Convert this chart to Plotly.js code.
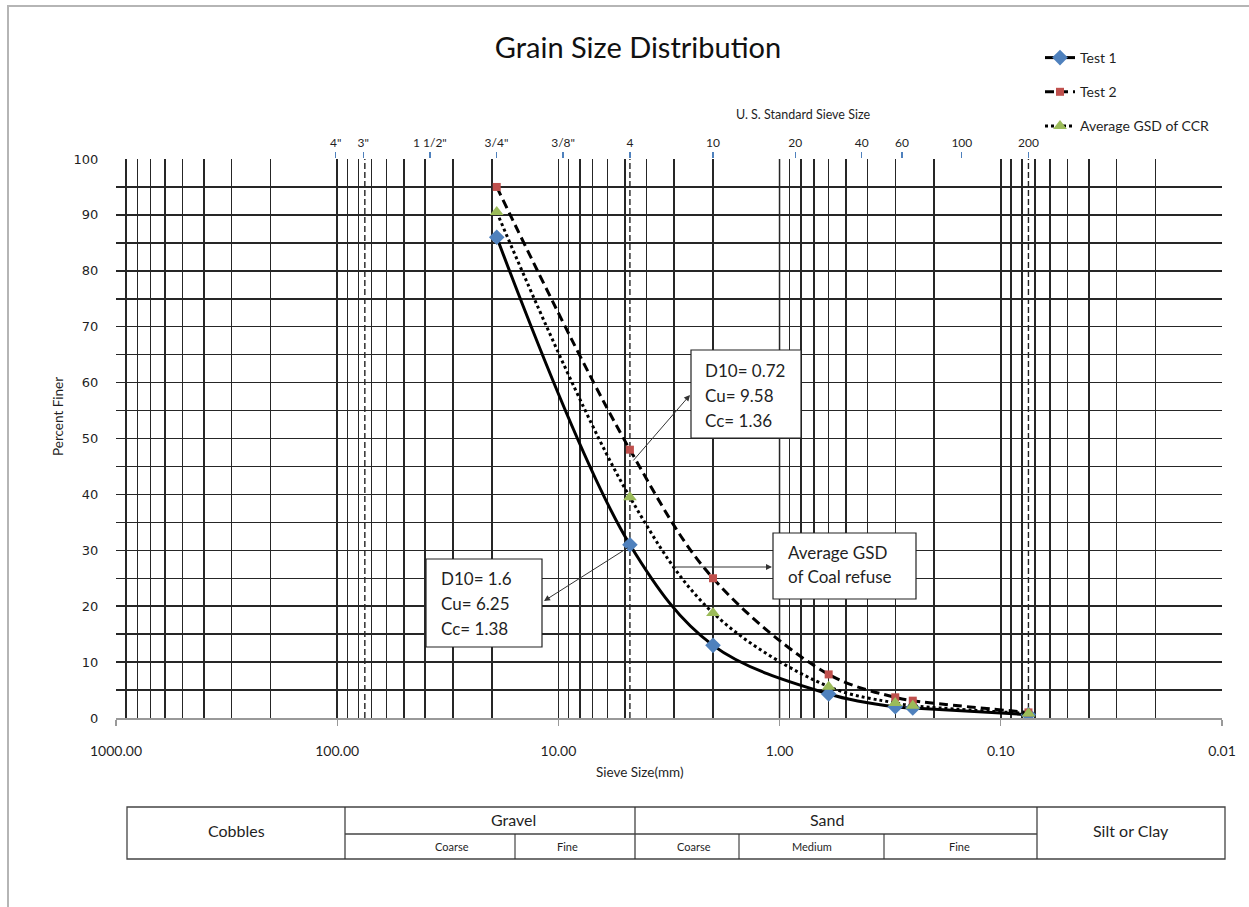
<!DOCTYPE html>
<html>
<head>
<meta charset="utf-8">
<script src="https://cdn.plot.ly/plotly-3.0.1.min.js"></script>
<style>
  html, body { margin: 0; padding: 0; background: #fff; }
  #wrap { position: relative; width: 1249px; height: 907px; overflow: hidden; }
  #chart { position: absolute; left: 0; top: 0; width: 1249px; height: 907px; }
  #frame { position: absolute; left: 7px; top: 5px; right: -10px; bottom: -10px;
           border-left: 2px solid #b5b5b5; border-top: 2px solid #b5b5b5; pointer-events: none; }
</style>
</head>
<body>
<div id="wrap">
  <div id="chart"></div>
  <div id="frame"></div>
</div>
<script>
// ---------------- data ----------------
const sieveSizeMm = [19, 4.75, 2.0, 0.6, 0.3, 0.25, 0.075];
const test1 = [86, 31, 13, 4.3, 2.0, 1.8, 0.6];
const test2 = [95, 48, 25, 7.8, 3.7, 3.1, 1.0];
const avgCCR = [90.5, 39.5, 18.8, 5.6, 2.7, 2.2, 0.8];
const seriesNames = ['Test 1', 'Test 2', 'Average GSD of CCR'];

// bottom axis tick labels
const xTickVals = [1000, 100, 10, 1, 0.1, 0.01];
const xTickText = ['1000.00', '100.00', '10.00', '1.00', '0.10', '0.01'];

// top axis: U.S. standard sieve sizes
const sieveTickVals = [101.6, 76.2, 38.1, 19.05, 9.525, 4.75, 2.0, 0.85, 0.425, 0.28, 0.15, 0.075];
const sieveTickText = ['4"', '3"', '1 1/2"', '3/4"', '3/8"', '4', '10', '20', '40', '60', '100', '200'];

// y axis ticks
const yTickVals = [0, 10, 20, 30, 40, 50, 60, 70, 80, 90, 100];

// sieve boundary reference lines (mm)
const boundaryLines = [75, 4.75, 0.075];

// text boxes
const box1Lines = ['D10= 0.72', 'Cu= 9.58', 'Cc= 1.36'];
const box2Lines = ['D10= 1.6', 'Cu= 6.25', 'Cc= 1.38'];
const box3Lines = ['Average GSD', 'of Coal refuse'];

// classification table labels
const tableTop = ['Cobbles', 'Gravel', 'Sand', 'Silt or Clay'];
const tableSub = ['Coarse', 'Fine', 'Coarse', 'Medium', 'Fine'];

// ---------------- layout helpers ----------------
const L = 116, R = 1222, T = 159, B = 718;
const px = p => (p - L) / (R - L);
const py = p => (B - p) / (B - T);

// log minor grid values n*10^k
const minorVals = [];
for (let k = -2; k <= 2; k++) {
  for (let n = 2; n <= 9; n++) minorVals.push(+(n * Math.pow(10, k)).toPrecision(3));
}

const BLUE = '#4F81BD', RED = '#C0504D', GREEN = '#9BBB59';
const TXT = '#1f1f1f';
const FONT = 'Lato, "Open Sans", sans-serif';
const GRID = '#262626', GW = 1.5;

const traces = [
  {
    x: sieveSizeMm, y: test1, name: seriesNames[0], type: 'scatter', mode: 'lines+markers',
    line: {color: '#000', width: 3, shape: 'spline', smoothing: 1},
    marker: {symbol: 'diamond', size: 12, color: BLUE},
    legendgroup: 'a'
  },
  {
    x: sieveSizeMm, y: test2, name: seriesNames[1], type: 'scatter', mode: 'lines+markers',
    line: {color: '#000', width: 3, dash: '9px,5px', shape: 'spline', smoothing: 1},
    marker: {symbol: 'square', size: 8, color: RED},
    legendgroup: 'b'
  },
  {
    x: sieveSizeMm, y: avgCCR, name: seriesNames[2], type: 'scatter', mode: 'lines+markers',
    line: {color: '#000', width: 3, dash: 'dot', shape: 'spline', smoothing: 1},
    marker: {symbol: 'triangle-up', size: 12, color: GREEN},
    legendgroup: 'c'
  }
];

const shapes = [];
// gray line at 1.00 mm
shapes.push({type: 'line', xref: 'x', yref: 'paper', x0: 1, x1: 1, y0: 0, y1: 1,
             line: {color: '#b0b0b0', width: 2.4}, layer: 'between'});
// dashed boundary lines
boundaryLines.forEach(v => shapes.push({type: 'line', xref: 'x', yref: 'paper', x0: v, x1: v, y0: 0, y1: 1,
             line: {color: '#222', width: 1.4, dash: '6px,3px'}, layer: 'between'}));

function rectPx(x0, y0, x1, y1, color, width) {
  return {type: 'rect', xref: 'paper', yref: 'paper', x0: px(x0), x1: px(x1), y0: py(y0), y1: py(y1),
          line: {color: color || '#222', width: width || 1.2}, fillcolor: 'white', layer: 'above'};
}
function linePx(x0, y0, x1, y1, color, width) {
  return {type: 'line', xref: 'paper', yref: 'paper', x0: px(x0), x1: px(x1), y0: py(y0), y1: py(y1),
          line: {color: color || '#333', width: width || 1.2}, layer: 'above'};
}
shapes.push(rectPx(691, 350, 801, 438));
shapes.push(rectPx(426, 559, 542, 647));
shapes.push(rectPx(773, 533, 916, 599));

// classification table
shapes.push({type: 'rect', xref: 'paper', yref: 'paper', x0: px(127), x1: px(1225), y0: py(807), y1: py(859),
             line: {color: '#444', width: 1.3}, fillcolor: 'rgba(0,0,0,0)', layer: 'above'});
[345, 635, 1037].forEach(x => shapes.push(linePx(x, 807, x, 859, '#333', 1.2)));
shapes.push(linePx(345, 834, 1037, 834, '#444', 1.3));
[515, 739, 884].forEach(x => shapes.push(linePx(x, 834, x, 859, '#333', 1.1)));

const annotations = [];
function textPx(text, x, y, size, opts) {
  return Object.assign({text: text, xref: 'paper', yref: 'paper', x: px(x), y: py(y),
    showarrow: false, xanchor: 'center', yanchor: 'middle',
    font: {family: FONT, size: size, color: TXT}}, opts || {});
}
box1Lines.forEach((t, i) => annotations.push(textPx(t, 703, 370 + i * 25, 17, {xanchor: 'left'})));
box2Lines.forEach((t, i) => annotations.push(textPx(t, 439, 578 + i * 25, 17, {xanchor: 'left'})));
box3Lines.forEach((t, i) => annotations.push(textPx(t, 786, 552 + i * 24, 17, {xanchor: 'left'})));

function arrowPx(hx, hy, tx, ty) {
  return {text: '', xref: 'paper', yref: 'paper', x: px(hx), y: py(hy), ax: tx - hx, ay: ty - hy,
          showarrow: true, arrowhead: 2, arrowsize: 1.2, arrowwidth: 1, arrowcolor: '#333'};
}
annotations.push(arrowPx(690, 395, 632, 462));
annotations.push(arrowPx(544, 601, 629, 547));
annotations.push(arrowPx(772, 567, 672, 567));

annotations.push(textPx('U. S. Standard Sieve Size', 803, 115, 12.5));
annotations.push(textPx('Sieve Size(mm)', 640, 772, 13.5));
annotations.push(textPx('Percent Finer', 58, 417, 13.5, {textangle: -90}));

annotations.push(textPx(tableTop[0], 236, 831, 16));
annotations.push(textPx(tableTop[1], 513, 819, 16));
annotations.push(textPx(tableTop[2], 827, 819, 16));
annotations.push(textPx(tableTop[3], 1131, 831, 16));
const subX = [452, 567, 694, 812, 959];
tableSub.forEach((t, i) => annotations.push(textPx(t, subX[i], 846, 11)));

const layout = {
  width: 1249, height: 907,
  margin: {l: L, r: 1249 - R, t: T, b: 907 - B, pad: 0},
  paper_bgcolor: 'rgba(0,0,0,0)', plot_bgcolor: '#fff',
  font: {family: FONT, color: TXT},
  title: {text: 'Grain Size Distribution', font: {family: FONT, size: 29, color: '#111'},
          xref: 'paper', x: px(638), xanchor: 'center', yref: 'container', y: 1 - 48 / 907, yanchor: 'middle'},
  showlegend: true,
  legend: {x: px(1040), y: py(42), xanchor: 'left', yanchor: 'top', bgcolor: 'rgba(0,0,0,0)',
           font: {family: FONT, size: 14, color: TXT}, tracegroupgap: 13, itemwidth: 30},
  xaxis: {
    type: 'log', range: [3, -2], autorange: false, fixedrange: true,
    tickmode: 'array', tickvals: xTickVals, ticktext: xTickText,
    ticks: 'outside', ticklen: 6, tickcolor: '#999', tickwidth: 1.3,
    ticklabelstandoff: 14,
    tickfont: {family: FONT, size: 14, color: TXT},
    showgrid: true, gridcolor: GRID, gridwidth: GW,
    minor: {tickmode: 'array', tickvals: minorVals, showgrid: true, gridcolor: GRID, gridwidth: GW, ticks: ''},
    showline: true, linecolor: '#999', linewidth: 1.5, zeroline: false
  },
  xaxis2: {
    type: 'log', range: [3, -2], autorange: false, overlaying: 'x', side: 'top', anchor: 'y', fixedrange: true,
    tickmode: 'array', tickvals: sieveTickVals, ticktext: sieveTickText,
    ticks: 'outside', ticklen: 6, tickcolor: BLUE, tickwidth: 1.3,
    tickfont: {family: FONT, size: 12, color: TXT},
    showgrid: false, showline: false, zeroline: false
  },
  yaxis: {
    range: [0, 100], autorange: false, fixedrange: true,
    tickmode: 'array', tickvals: yTickVals,
    ticks: 'outside', ticklen: 14, tickcolor: 'rgba(0,0,0,0)',
    tickfont: {family: '"DejaVu Sans", Verdana, sans-serif', size: 13, color: TXT},
    showgrid: true, gridcolor: GRID, gridwidth: GW,
    minor: {dtick: 5, showgrid: true, gridcolor: GRID, gridwidth: GW, ticks: ''},
    showline: false, zeroline: false
  },
  shapes: shapes,
  annotations: annotations
};

traces.push({x: sieveTickVals, y: sieveTickVals.map(() => null), xaxis: 'x2', yaxis: 'y',
             type: 'scatter', mode: 'markers', showlegend: false, hoverinfo: 'skip'});

Plotly.newPlot('chart', traces, layout, {staticPlot: true, displayModeBar: false});
</script>
</body>
</html>
